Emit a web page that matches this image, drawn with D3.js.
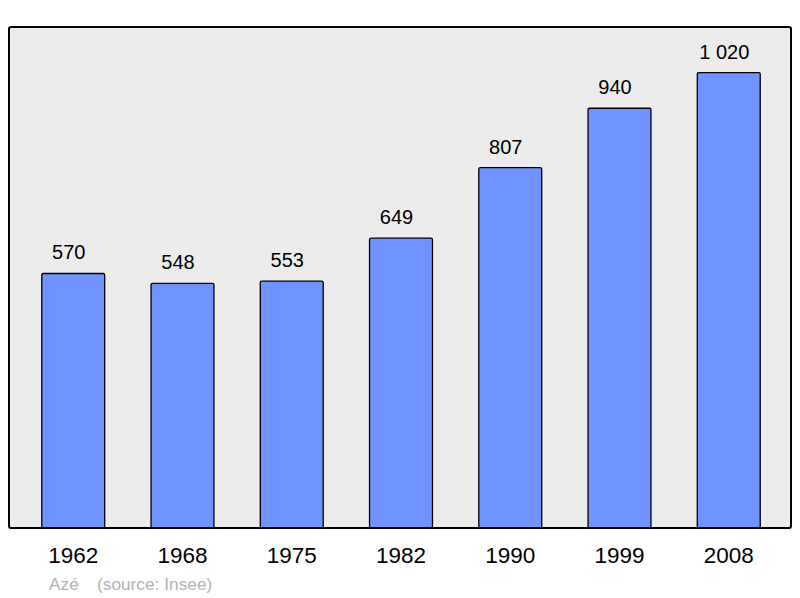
<!DOCTYPE html>
<html>
<head>
<meta charset="utf-8">
<script src="https://cdn.jsdelivr.net/npm/d3@7"></script>
<style>
  body { margin: 0; background: #fff; }
  svg { display: block; font-family: "Liberation Sans", Arial, sans-serif; }
</style>
</head>
<body>
<script>
  let years = ['1962', '1968', '1975', '1982', '1990', '1999', '2008']
  let population = [570, 548, 553, 649, 807, 940, 1020]
  let valueLabels = ['570', '548', '553', '649', '807', '940', '1 020']
  let commune = 'Azé'
  let source = '(source: Insee)'

  let svg = d3.select('body').append('svg')
    .attr('width', 800)
    .attr('height', 598)

  var frame = {left: 9, top: 27, right: 791, bottom: 528}

  var x = d3.scaleBand()
    .domain(years)
    .range([9, 793])
    .paddingInner(0.424)
    .paddingOuter(0.3)

  var y = d3.scaleLinear()
    .domain([0, d3.max(population) * 1.1])
    .range([frame.bottom, frame.top])

  svg.append('rect')
    .attr('x', frame.left)
    .attr('y', frame.top)
    .attr('width', frame.right - frame.left)
    .attr('height', frame.bottom - frame.top)
    .attr('rx', 2)
    .attr('fill', '#ececec')

  let bar = svg.selectAll('.bar')
    .data(years)
    .enter().append('g')
    .attr('class', 'bar')

  bar.append('rect')
    .attr('x', d => x(d))
    .attr('y', (d, i) => y(population[i]))
    .attr('width', x.bandwidth())
    .attr('height', (d, i) => y(0) - y(population[i]))
    .attr('rx', 1.5)
    .attr('fill', '#7093ff')
    .attr('stroke', '#000')
    .attr('stroke-width', 1.3)

  // value labels sit a little left of the bar centre in the original
  bar.append('text')
    .attr('x', d => x(d) + x.bandwidth() / 2 - 4.5)
    .attr('y', (d, i) => y(population[i]) - 14)
    .attr('text-anchor', 'middle')
    .style('font-size', '20px')
    .attr('fill', '#000')
    .text((d, i) => valueLabels[i])

  // year labels via bottom axis, no lines
  svg.append('g')
    .attr('transform', 'translate(0,' + frame.bottom + ')')
    .call(d3.axisBottom(x).tickSize(0).tickPadding(19))
    .call(g => g.select('.domain').remove())
    .selectAll('text')
    .style('font-size', '22.5px')
    .style('font-family', '"Liberation Sans", Arial, sans-serif')
    .attr('fill', '#000')

  // frame border on top of bars
  svg.append('rect')
    .attr('x', frame.left)
    .attr('y', frame.top)
    .attr('width', frame.right - frame.left)
    .attr('height', frame.bottom - frame.top)
    .attr('rx', 2)
    .attr('fill', 'none')
    .attr('stroke', '#000')
    .attr('stroke-width', 2)

  svg.append('text')
    .attr('x', 49)
    .attr('y', 590)
    .style('font-size', '17.3px')
    .attr('fill', '#b3b3b3')
    .text(commune)

  svg.append('text')
    .attr('x', 97)
    .attr('y', 590)
    .style('font-size', '17.3px')
    .attr('fill', '#b3b3b3')
    .text(source)
</script>
</body>
</html>
